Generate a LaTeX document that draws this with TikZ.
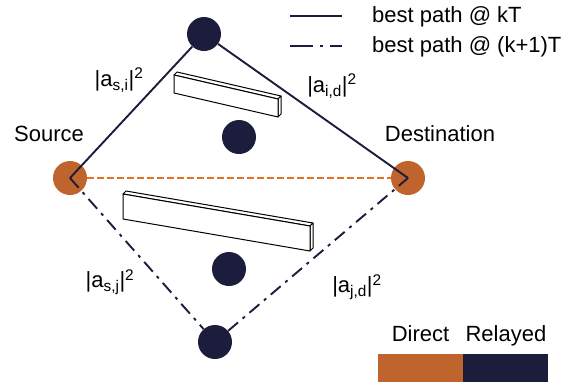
\documentclass[tikz,border=0pt]{standalone}
\usepackage{fontspec}
\setmainfont{Liberation Sans}
\usetikzlibrary{positioning}
\definecolor{navy}{RGB}{28,28,60}
\definecolor{rust}{RGB}{190,100,44}
\definecolor{flame}{RGB}{232,112,36}
\tikzset{
  % --- terminals and relays -------------------------------------------------
  term/.style={circle,fill=rust,minimum size=34pt,inner sep=0pt},
  relay/.style={circle,fill=navy,minimum size=34pt,inner sep=0pt},
  % --- links ------------------------------------------------------------------
  bestk/.style={navy,line width=1.9pt},
  bestkk/.style={navy,line width=1.9pt,dash pattern=on 13pt off 6pt on 3pt off 6pt},
  direct/.style={flame,line width=1.6pt,dash pattern=on 7pt off 3pt},
  % --- obstacles and text -----------------------------------------------------
  wall/.style={draw=black,fill=white,line width=1pt,line join=round},
  lbl/.style={font=\fontsize{22}{25}\selectfont,inner sep=1pt},
  blk/.style={minimum width=85pt,minimum height=28pt,inner sep=0pt},
}
% channel gain |a_{x,y}|^2
\newcommand{\gain}[1]{|a\textsubscript{#1}|\textsuperscript{2}}
% slanted slab: front top-left, front top-right, height
\newcommand{\slab}[5]{%
  \draw[wall] (#1,#2) -- ++(3,-3) -- (#3+3,#4-3) -- (#3,#4) -- cycle;
  \draw[wall] (#3,#4) -- (#3+3,#4-3) -- (#3+3,#4+#5-3) -- (#3,#4+#5) -- cycle;
  \draw[wall] (#1,#2) -- (#3,#4) -- (#3,#4+#5) -- (#1,#2+#5) -- cycle;
}

\begin{document}
\begin{tikzpicture}[x=1pt,y=-1pt]
  \useasboundingbox (0,0) rectangle (574,384);
  % end points
  \node[term] (src) at (70,178) {};
  \node[term] (dst) at (408,178) {};
  \node[lbl] at (49,134) {Source};
  \node[lbl] at (440,134) {Destination};
  % obstacles
  \slab{174}{75}{278}{99}{18}
  \slab{123}{194}{310}{226}{25}
  % relays
  \node[relay] (ri) at (204,34) {};
  \node[relay] (r1) at (239,137) {};
  \node[relay] (r2) at (229,269) {};
  \node[relay] (rj) at (215,342) {};
  % links
  \draw[direct] (src) -- (dst);
  \draw[bestk] (src.center) -- (ri) -- (dst.center);
  \draw[bestkk] (src.center) -- (rj) -- (dst.center);
  \node[lbl] at (119,80) {\gain{s,i}};
  \node[lbl] at (332,86) {\gain{i,d}};
  \node[lbl] at (110,282) {\gain{s,j}};
  \node[lbl] at (357,287) {\gain{j,d}};
  % legend
  \coordinate (k0) at (290,16);
  \coordinate (k1) at (342,16);
  \coordinate (kk0) at (290,46);
  \coordinate (kk1) at (342,46);
  \draw[bestk,line width=2.4pt] (k0) -- (k1);
  \draw[navy,line width=2.4pt,dash pattern=on 23pt off 7pt on 3pt off 7pt on 12pt off 20pt] (kk0) -- (kk1);
  \node[lbl,anchor=west] at (371,17) {best path @ kT};
  \node[lbl,anchor=west] at (371,47) {best path @ (k+1)T};
  \node[blk,fill=rust] (dblk) at (420.5,368) {};
  \node[blk,fill=navy,right=0pt of dblk] (rblk) {};
  \node[lbl,anchor=base] at ([yshift=12pt]dblk.north) {Direct};
  \node[lbl,anchor=base] at ([yshift=12pt]rblk.north) {Relayed};
\end{tikzpicture}
\end{document}
